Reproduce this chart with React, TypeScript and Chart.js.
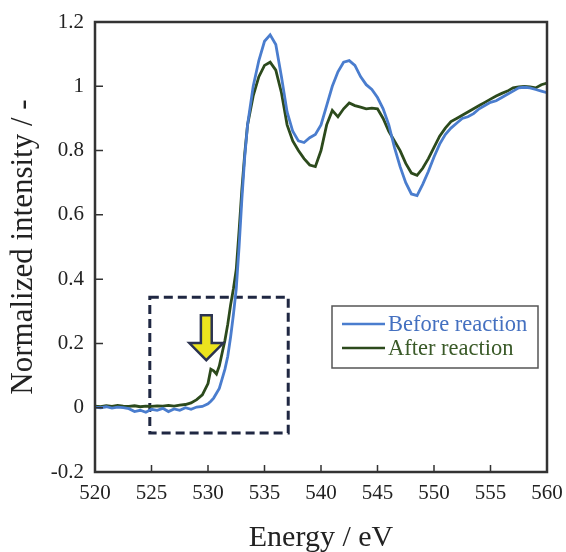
import React, { useEffect, useRef } from "react";
import { Chart, registerables } from "chart.js";

Chart.register(...registerables);

// ---- data ----
const energy = [
  520, 520.5, 521, 521.5, 522, 522.5, 523, 523.5, 524, 524.5, 525, 525.5, 526, 526.5, 527, 527.5, 528, 528.5, 529, 529.5,
  530, 530.25, 530.5, 530.75, 531, 531.25, 531.5, 531.75, 532, 532.25, 532.5, 532.75, 533, 533.25, 533.5,
  534, 534.5, 535, 535.5, 536, 536.5, 537, 537.5, 538, 538.5, 539, 539.5, 540, 540.5, 541, 541.5, 542, 542.5,
  543, 543.5, 544, 544.5, 545, 545.5, 546, 546.5, 547, 547.5, 548, 548.5, 549, 549.5, 550, 550.5, 551, 551.5,
  552, 552.5, 553, 553.5, 554, 554.5, 555, 555.5, 556, 556.5, 557, 557.5, 558, 558.5, 559, 559.5, 560,
];

const beforeReaction = [
  0.002, 0.0, 0.003, -0.001, 0.002, 0.0, -0.003, -0.012, -0.008, -0.014, -0.005, -0.008, -0.002, -0.012, -0.004, -0.008, 0.0, -0.005, 0.002, 0.004,
  0.012, 0.02, 0.03, 0.045, 0.06, 0.09, 0.12, 0.16, 0.22, 0.29, 0.37, 0.5, 0.65, 0.78, 0.88,
  1.0, 1.08, 1.14, 1.16, 1.13, 1.03, 0.92, 0.86, 0.83, 0.825, 0.84, 0.85, 0.88, 0.94, 1.0, 1.045, 1.075, 1.08,
  1.065, 1.03, 1.005, 0.99, 0.965, 0.93, 0.88, 0.81, 0.75, 0.7, 0.665, 0.66, 0.695, 0.735, 0.78, 0.82, 0.85, 0.87,
  0.885, 0.9, 0.905, 0.915, 0.93, 0.94, 0.95, 0.955, 0.965, 0.975, 0.985, 0.995, 0.997, 0.995, 0.99, 0.985, 0.98,
];

const afterReaction = [
  0.005, 0.003, 0.006, 0.004, 0.007, 0.005, 0.004, 0.006, 0.003, 0.005, 0.004, 0.006, 0.005, 0.007, 0.005, 0.008, 0.01, 0.015, 0.025, 0.04,
  0.075, 0.12, 0.115, 0.105, 0.13, 0.17, 0.21, 0.26, 0.32, 0.37, 0.43, 0.55, 0.68, 0.79, 0.88,
  0.97, 1.03, 1.065, 1.075, 1.05, 0.98, 0.88, 0.83, 0.8, 0.775, 0.755, 0.75, 0.8, 0.88, 0.925, 0.905, 0.93, 0.948,
  0.94, 0.935, 0.93, 0.932, 0.93, 0.9, 0.86, 0.83, 0.8, 0.76, 0.73, 0.723, 0.745, 0.775, 0.81, 0.845, 0.87, 0.89,
  0.9, 0.91, 0.92, 0.93, 0.94, 0.95, 0.96, 0.97, 0.978, 0.985, 0.995, 0.998, 1.0, 0.998, 0.995, 1.005, 1.01,
];

const seriesLabels = ["Before reaction", "After reaction"];
const seriesColors = ["#4a7dce", "#2c4a1c"];
const legendTextColors = ["#4470c0", "#3a5a28"];

const xRange = [520, 560];
const xStep = 5;
const yRange = [-0.2, 1.2];
const yStep = 0.2;

// annotation (data units)
const highlightBox = { xMin: 524.85, xMax: 537.1, yMin: -0.079, yMax: 0.344 };
const arrowMark = { x: 529.85, yTop: 0.288, yHeadBase: 0.201, yTip: 0.148, shaftHalf: 0.48, headHalf: 1.5 };

const FONT = "'Liberation Serif', 'Times New Roman', serif";

const decorPlugin = {
  id: "decor",
  beforeDatasetsDraw(chart: any) {
    const { ctx, scales } = chart;
    const x = scales.x, y = scales.y;
    ctx.save();
    ctx.strokeStyle = "#1f2742";
    ctx.lineWidth = 3;
    ctx.setLineDash([9, 5]);
    const l = x.getPixelForValue(highlightBox.xMin);
    const r = x.getPixelForValue(highlightBox.xMax);
    const t = y.getPixelForValue(highlightBox.yMax);
    const b = y.getPixelForValue(highlightBox.yMin);
    ctx.strokeRect(l, t, r - l, b - t);
    ctx.restore();
  },
  afterDraw(chart: any) {
    const { ctx, scales, chartArea } = chart;
    const x = scales.x, y = scales.y;
    ctx.save();
    // frame
    ctx.strokeStyle = "#333";
    ctx.lineWidth = 2.5;
    ctx.strokeRect(chartArea.left, chartArea.top, chartArea.right - chartArea.left, chartArea.bottom - chartArea.top);
    // inward ticks
    ctx.lineWidth = 1.5;
    ctx.beginPath();
    x.ticks.forEach((tk: any) => {
      const px = x.getPixelForValue(tk.value);
      if (px <= chartArea.left + 1 || px >= chartArea.right - 1) return;
      ctx.moveTo(px, chartArea.bottom);
      ctx.lineTo(px, chartArea.bottom - 7);
    });
    y.ticks.forEach((tk: any) => {
      const py = y.getPixelForValue(tk.value);
      if (py <= chartArea.top + 1 || py >= chartArea.bottom - 1) return;
      ctx.moveTo(chartArea.left, py);
      ctx.lineTo(chartArea.left + 8, py);
    });
    ctx.stroke();

    // yellow arrow
    const ax = x.getPixelForValue(arrowMark.x);
    const sh = x.getPixelForValue(arrowMark.x + arrowMark.shaftHalf) - ax;
    const hh = x.getPixelForValue(arrowMark.x + arrowMark.headHalf) - ax;
    const yt = y.getPixelForValue(arrowMark.yTop);
    const yb = y.getPixelForValue(arrowMark.yHeadBase);
    const yp = y.getPixelForValue(arrowMark.yTip);
    ctx.beginPath();
    ctx.moveTo(ax - sh, yt);
    ctx.lineTo(ax + sh, yt);
    ctx.lineTo(ax + sh, yb);
    ctx.lineTo(ax + hh, yb);
    ctx.lineTo(ax, yp);
    ctx.lineTo(ax - hh, yb);
    ctx.lineTo(ax - sh, yb);
    ctx.closePath();
    ctx.fillStyle = "#ece41e";
    ctx.fill();
    ctx.strokeStyle = "#2b3350";
    ctx.lineWidth = 2.5;
    ctx.lineJoin = "miter";
    ctx.stroke();

    // legend
    const boxR = chartArea.right - 9;
    const boxL = boxR - 206;
    const boxT = 306;
    const boxB = 368;
    ctx.fillStyle = "#fff";
    ctx.fillRect(boxL, boxT, boxR - boxL, boxB - boxT);
    ctx.strokeStyle = "#555";
    ctx.lineWidth = 1.5;
    ctx.strokeRect(boxL, boxT, boxR - boxL, boxB - boxT);
    chart.data.datasets.forEach((ds: any, i: number) => {
      const ly = boxT + 18 + i * 24;
      ctx.strokeStyle = ds.borderColor;
      ctx.lineWidth = 2.5;
      ctx.beginPath();
      ctx.moveTo(boxL + 10, ly);
      ctx.lineTo(boxL + 53, ly);
      ctx.stroke();
      ctx.fillStyle = legendTextColors[i];
      ctx.font = `22.5px ${FONT}`;
      ctx.textBaseline = "middle";
      ctx.textAlign = "left";
      ctx.fillText(ds.label, boxL + 56, ly + 1);
    });
    ctx.restore();
  },
};

export default function App() {
  const ref = useRef<HTMLCanvasElement | null>(null);
  useEffect(() => {
    if (!ref.current) return;
    const mk = (vals: number[]) => energy.map((e, i) => ({ x: e, y: vals[i] }));
    const chart = new Chart(ref.current, {
      type: "scatter",
      data: {
        datasets: [
          { label: seriesLabels[0], data: mk(beforeReaction), showLine: true, borderColor: seriesColors[0], borderWidth: 2.8, pointRadius: 0, tension: 0 },
          { label: seriesLabels[1], data: mk(afterReaction), showLine: true, borderColor: seriesColors[1], borderWidth: 2.8, pointRadius: 0, tension: 0 },
        ],
      },
      options: {
        animation: false,
        responsive: false,
        layout: { padding: { top: 22, right: 19, left: 0, bottom: 0 } },
        plugins: { legend: { display: false }, tooltip: { enabled: false } },
        scales: {
          x: {
            type: "linear",
            min: xRange[0],
            max: xRange[1],
            afterFit: (s: any) => { s.height = 80; s.paddingRight = 0; s.paddingLeft = 0; },
            grid: { display: false, drawTicks: false },
            border: { display: false },
            ticks: { stepSize: xStep, padding: 9, color: "#222", font: { family: FONT, size: 21 }, maxRotation: 0 },
            title: { display: true, text: "Energy / eV", color: "#222", font: { family: FONT, size: 30 }, padding: { top: 0, bottom: -4 } },
          },
          y: {
            type: "linear",
            min: yRange[0],
            max: yRange[1],
            afterFit: (s: any) => { s.width = 95; s.paddingTop = 0; s.paddingBottom = 0; },
            grid: { display: false, drawTicks: false },
            border: { display: false },
            ticks: {
              stepSize: yStep,
              padding: 11,
              color: "#222",
              font: { family: FONT, size: 21 },
              callback: (v: any) => String(Number(Number(v).toFixed(1))),
            },
            title: { display: true, text: "Normalized intensity / -", color: "#222", font: { family: FONT, size: 31 }, padding: { top: 5, bottom: 0 } },
          },
        },
      },
      plugins: [decorPlugin],
    });
    return () => chart.destroy();
  }, []);
  return (
    <div style={{ position: "absolute", left: 0, top: 0, width: 566, height: 552, background: "#fff" }}>
      <canvas ref={ref} width={566} height={552} style={{ display: "block" }} />
    </div>
  );
}
